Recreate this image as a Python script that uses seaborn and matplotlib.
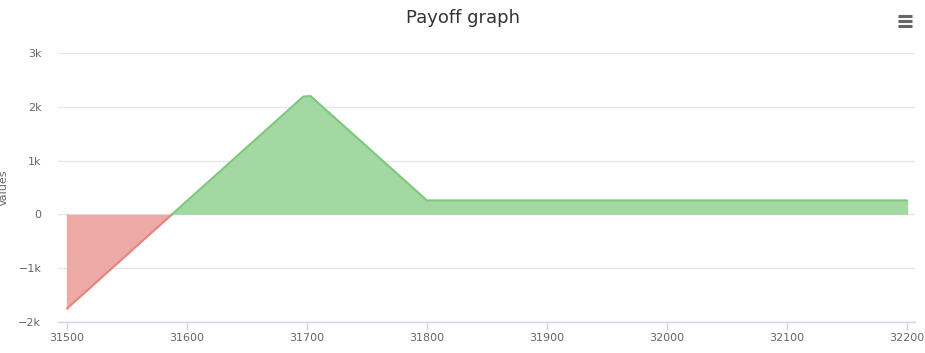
import matplotlib
matplotlib.use("Agg")
import matplotlib.pyplot as plt
import seaborn as sns
import numpy as np
import pandas as pd
from matplotlib.lines import Line2D

# Data
strike = [31500, 31600, 31697, 31703, 31800, 32200]
payoff = [-1750, 250, 2190, 2200, 260, 260]
x_ticks = [31500, 31600, 31700, 31800, 31900, 32000, 32100, 32200]
y_ticks = [-2000, -1000, 0, 1000, 2000, 3000]
y_labels = ["−2k", "−1k", "0", "1k", "2k", "3k"]
title = "Payoff graph"
y_title = "Values"

sns.set_theme(style="white")
plt.rcParams['font.family'] = ['DejaVu Sans']

fig = plt.figure(figsize=(9.25, 3.53), dpi=100)
ax = fig.add_axes([0.0627, 0.0878, 0.9263, 0.7621])

x = np.array(strike, dtype=float)
y = np.array(payoff, dtype=float)

green_fill = "#a3d8a3"
green_line = "#7cc87c"
red_fill = "#eca9a5"
red_line = "#e8837e"

ax.fill_between(x, 0, y, where=y >= 0, interpolate=True, color=green_fill, lw=0, zorder=2)
ax.fill_between(x, 0, y, where=y <= 0, interpolate=True, color=red_fill, lw=0, zorder=2)

# outline lines split at zero
x0 = np.interp(0, y[:2], x[:2])
neg = pd.DataFrame({"strike": [x[0], x0], "payoff": [y[0], 0]})
pos = pd.DataFrame({"strike": [x0] + list(x[1:]), "payoff": [0] + list(y[1:])})
sns.lineplot(data=neg, x="strike", y="payoff", ax=ax, color=red_line, lw=1.5, zorder=3)
sns.lineplot(data=pos, x="strike", y="payoff", ax=ax, color=green_line, lw=1.5, zorder=3)
ax.plot([x[0], x[0]], [0, y[0]], color=red_fill, lw=1, zorder=2)
ax.plot([x[-1], x[-1]], [0, y[-1]], color=green_fill, lw=1, zorder=2)

ax.set_xlim(31492.5, 32206.7)
ax.set_ylim(-2000, 3000)
ax.set_xticks(x_ticks)
ax.set_xticklabels([str(t) for t in x_ticks], fontsize=8, color="#666666")
ax.set_yticks(y_ticks)
ax.set_yticklabels(y_labels, fontsize=8, color="#666666")
ax.grid(axis="y", color="#e6e6e6", lw=1, zorder=0)
ax.set_axisbelow(True)
for s in ["top", "right", "left"]:
    ax.spines[s].set_visible(False)
ax.spines["bottom"].set_color("#ccd6eb")
ax.spines["bottom"].set_linewidth(1)
ax.tick_params(axis="x", length=6, color="#ccd6eb", width=1, pad=2, direction="out", bottom=True)
ax.tick_params(axis="y", length=0, pad=12)
ax.set_xlabel("")
ax.set_ylabel(y_title, fontsize=8, color="#666666")
ax.yaxis.set_label_coords(-0.057, 0.5)

fig.text(0.5, 0.948, title, ha="center", va="center", fontsize=13, color="#333333")

# menu icon
for yy in [0.926, 0.9405, 0.955]:
    fig.add_artist(Line2D([0.971, 0.986], [yy, yy], transform=fig.transFigure,
                          color="#666666", lw=2.2, solid_capstyle="butt"))

fig.savefig("out.png", dpi=100)
